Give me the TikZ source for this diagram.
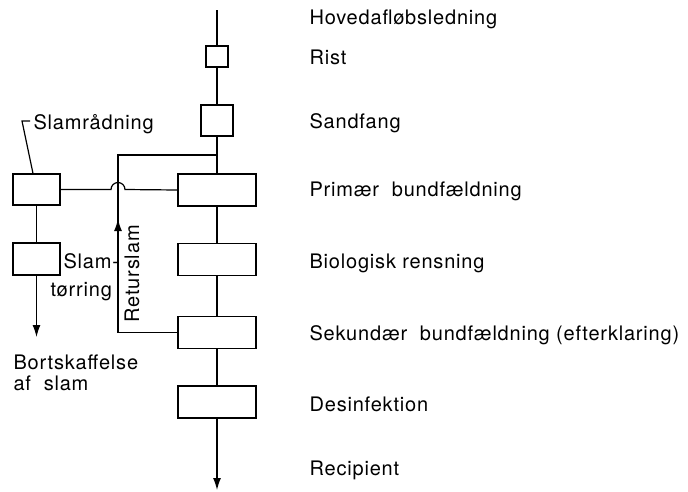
\documentclass[tikz,border=0pt]{standalone}
\usepackage{fontspec}
\setmainfont{TeX Gyre Heros}[LetterSpace=4]
\usepackage{tikz}
\usetikzlibrary{arrows}
\usetikzlibrary{arrows.meta}

\begin{document}
\begin{tikzpicture}[x=1pt,y=-1pt,line width=1.2pt,
	>={Latex[length=12pt,width=8pt]},
	stage node/.style={draw,rectangle,inner sep=0pt,
		minimum width=78pt,minimum height=32pt},
	text node/.style={anchor=base west,inner sep=0pt,
		font=\fontsize{20}{21}\selectfont}]
	\useasboundingbox (0,0) rectangle (688,491);
	
	% hovedstrengen
	\coordinate (top) at (217,10);
	\node[stage node,minimum width=22pt,minimum height=21pt] (rist) at (217,56.5) {};
	\node[stage node,minimum width=32pt,minimum height=31pt] (sand) at (217,120.5) {};
	\node[stage node] (prim) at (217,190) {};
	\node[stage node] (bio) at (217,259.5) {};
	\node[stage node] (sek) at (217,332.5) {};
	\node[stage node] (des) at (217,402) {};
	\coordinate (recip) at (217,490);
	
	% slambehandling
	\node[stage node,minimum width=47pt,minimum height=31pt] (raad) at (36.5,189.5) {};
	\node[stage node,minimum width=47pt,minimum height=32pt] (tor) at (36.5,259) {};
	\coordinate (bort) at (36.5,337);
	
	% returslam
	\coordinate (junc) at (217,155);
	\coordinate (rtop) at (118,155);
	\coordinate (rbot) at (118,332.5);
	\coordinate (rarr) at (118,219);
	\coordinate (lead) at (22,121);
	\coordinate (leadend) at (30,121);
	
	\draw (top) -- (rist) -- (sand) -- (prim) -- (bio) -- (sek) -- (des);
	\draw[->] (des) -- (recip);
	\draw (sek.west) -- (rbot) -- (rtop) -- (junc);
	\draw[->] (rbot) -- (rarr);
	\draw (raad.east) -- ([xshift=-7pt]raad.east -| rtop)
		arc[start angle=180,end angle=0,radius=7pt] -- (prim.west);
	\draw (raad) -- (tor);
	\draw[->] (tor) -- (bort);
	\draw ([xshift=-3.5pt]raad.north) -- (lead) -- (leadend);
	
	% tekster
	\node[text node] (t1) at (309,24) {Hovedafløbsledning};
	\node[text node] (t2) at (309,64) {Rist};
	\node[text node] (t3) at (309,128) {Sandfang};
	\node[text node] (t4) at (309,196) {Primær\ \ bundfældning};
	\node[text node] (t5) at (309,268) {Biologisk rensning};
	\node[text node] (t6) at (309,340) {Sekundær\ \ bundfældning (efterklaring)};
	\node[text node] (t7) at (309,411) {Desinfektion};
	\node[text node] (t8) at (309,475) {Recipient};
	\node[text node] (l1) at (33,129) {Slamrådning};
	\node[text node] (l2) at (63,268) {Slam-};
	\node[text node] (l3) at (50,296) {tørring};
	\node[text node,align=left] (l4) at (13,390) {Bortskaffelse\\af\ \ slam};
	\node[text node,rotate=90] (l5) at (139,323) {Returslam};
\end{tikzpicture}
\end{document}
